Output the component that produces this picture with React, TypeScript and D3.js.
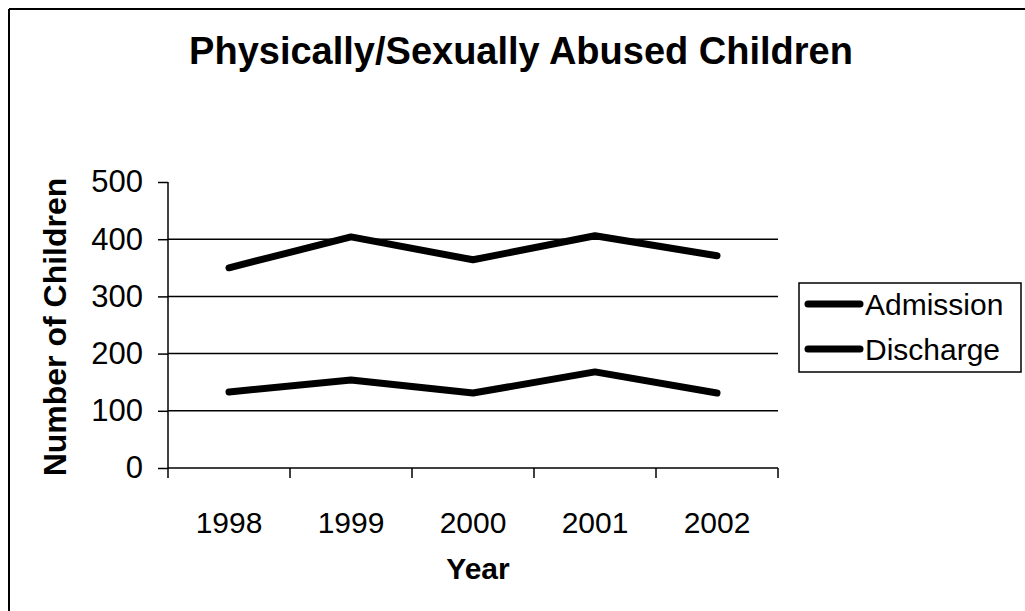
import React, { useRef, useEffect } from 'react';
import * as d3 from 'd3';

const years = ['1998', '1999', '2000', '2001', '2002'];
const admission = [350, 404, 364, 406, 371];
const discharge = [133, 154, 131, 168, 131];
const yTicks = [0, 100, 200, 300, 400, 500];
const seriesNames = ['Admission', 'Discharge'];

const FONT = '"Liberation Sans", Arial, sans-serif';

export default function App() {
  const svgRef = useRef<SVGSVGElement>(null);

  useEffect(() => {
    const width = 1025, height = 611;
    const svg = d3.select(svgRef.current as SVGSVGElement);
    svg.selectAll('*').remove();
    svg.attr('width', width).attr('height', height).style('background', '#fff');

    // outer frame (only left and top edges visible)
    svg.append('line').attr('x1', 9).attr('x2', 9).attr('y1', 9).attr('y2', height)
      .attr('stroke', '#000').attr('stroke-width', 2);
    svg.append('line').attr('x1', 9).attr('x2', width).attr('y1', 9).attr('y2', 9)
      .attr('stroke', '#000').attr('stroke-width', 2);

    svg.append('text').attr('x', 521).attr('y', 64)
      .attr('text-anchor', 'middle').attr('font-family', FONT)
      .attr('font-weight', 'bold').attr('font-size', 38)
      .text('Physically/Sexually Abused Children');

    const left = 168, right = 778, top = 182, bottom = 468;
    const x = d3.scaleBand().domain(years).range([left, right]);
    const y = d3.scaleLinear().domain([0, 500]).range([bottom, top]);

    // gridlines
    svg.append('g').selectAll('line').data(yTicks.filter(t => t > 0 && t < 500)).join('line')
      .attr('x1', left).attr('x2', right)
      .attr('y1', d => y(d)).attr('y2', d => y(d))
      .attr('stroke', '#000').attr('stroke-width', 1.5);

    // y axis
    const yAxis = svg.append('g').attr('transform', `translate(${left},0)`)
      .call(d3.axisLeft(y).tickValues(yTicks).tickSize(10).tickPadding(15));
    yAxis.select('.domain').attr('stroke-width', 1.5).attr('d', `M-0,${top}V${bottom}`);
    yAxis.selectAll('.tick line').attr('stroke-width', 1.5);
    yAxis.selectAll('text').attr('font-family', FONT).attr('font-size', 31).attr('fill', '#000');

    // x axis
    const xAxis = svg.append('g').attr('transform', `translate(0,${bottom})`)
      .call(d3.axisBottom(x).tickSize(0).tickPadding(44));
    xAxis.select('.domain').attr('stroke-width', 1.5).attr('d', `M${left},0H${right}`);
    xAxis.selectAll('text').attr('font-family', FONT).attr('font-size', 30).attr('fill', '#000');
    const edges = [left, ...years.map(yr => (x(yr) as number) + x.bandwidth())];
    xAxis.append('g').selectAll('line').data(edges).join('line')
      .attr('x1', d => d).attr('x2', d => d).attr('y1', 0).attr('y2', 10)
      .attr('stroke', '#000').attr('stroke-width', 1.5);

    // lines
    const line = d3.line<number>()
      .x((_, i) => (x(years[i]) as number) + x.bandwidth() / 2)
      .y(d => y(d));
    [admission, discharge].forEach(s => {
      svg.append('path').datum(s)
        .attr('fill', 'none').attr('stroke', '#000').attr('stroke-width', 7)
        .attr('stroke-linecap', 'round').attr('stroke-linejoin', 'round')
        .attr('d', line);
    });

    // axis titles
    svg.append('text').attr('transform', 'translate(66,327) rotate(-90)')
      .attr('text-anchor', 'middle').attr('font-family', FONT)
      .attr('font-weight', 'bold').attr('font-size', 32).text('Number of Children');
    svg.append('text').attr('x', 478).attr('y', 579)
      .attr('text-anchor', 'middle').attr('font-family', FONT)
      .attr('font-weight', 'bold').attr('font-size', 30).text('Year');

    // legend
    const lg = svg.append('g');
    lg.append('rect').attr('x', 799).attr('y', 283).attr('width', 222).attr('height', 89)
      .attr('fill', '#fff').attr('stroke', '#000').attr('stroke-width', 1.5);
    seriesNames.forEach((name, i) => {
      const cy = 304 + i * 45;
      lg.append('line').attr('x1', 808).attr('x2', 860).attr('y1', cy).attr('y2', cy)
        .attr('stroke', '#000').attr('stroke-width', 7).attr('stroke-linecap', 'round');
      lg.append('text').attr('x', 865).attr('y', cy + 11)
        .attr('font-family', FONT).attr('font-size', 30).text(name);
    });
  }, []);

  return <svg ref={svgRef} style={{ position: 'absolute', left: 0, top: 0 }} />;
}
